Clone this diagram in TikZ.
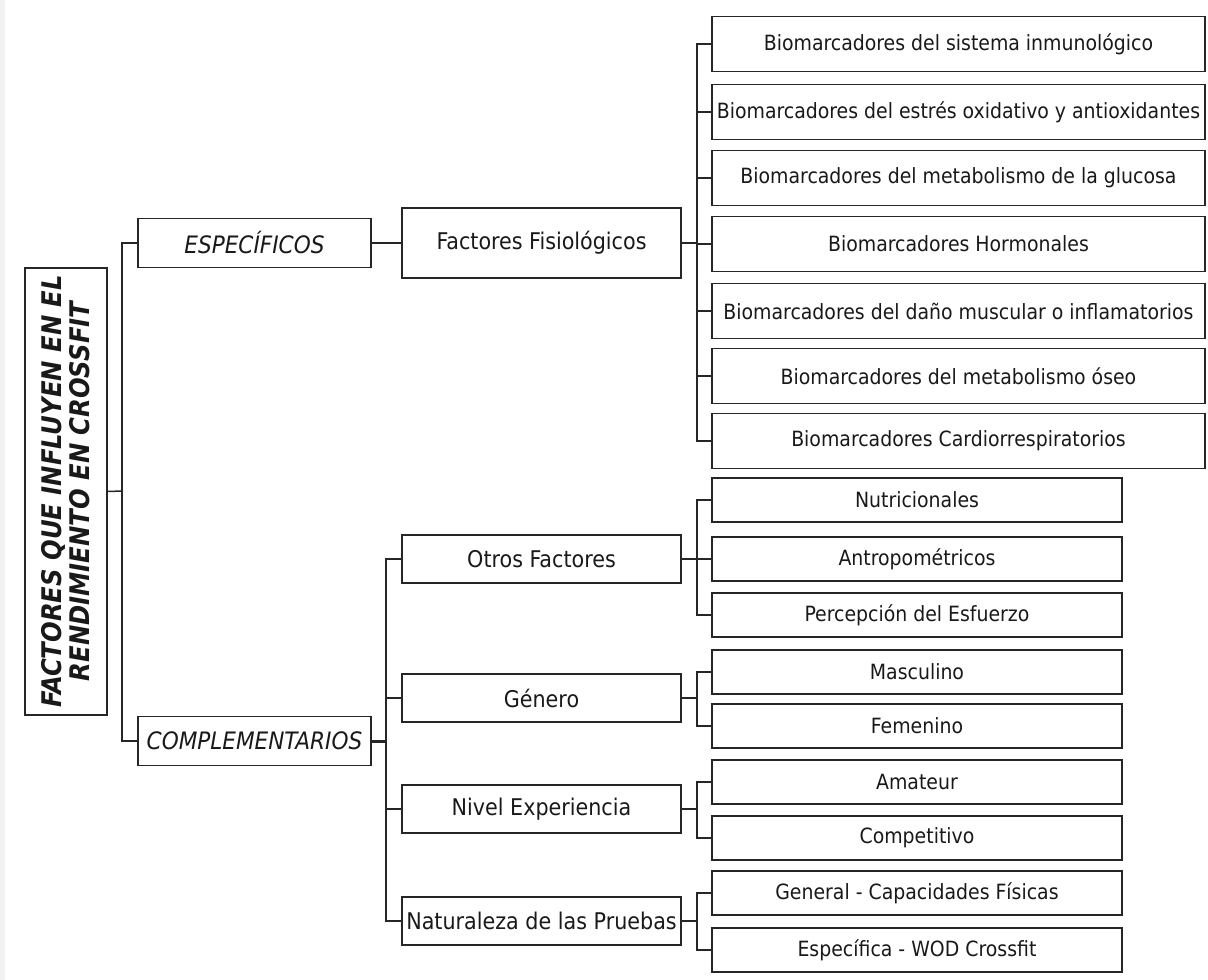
\documentclass[tikz,border=0pt]{standalone}
\usepackage{fontspec}
\setmainfont{DejaVu Sans Condensed}
\newfontfamily\titlefont{DejaVu Sans Condensed}
\begin{document}
\begin{tikzpicture}[x=1pt,y=-1pt,
  box/.style={draw=black!85,line width=1.6pt,inner sep=0pt,align=center,text=black!90},
  link/.style={draw=black!85,line width=1.5pt},
  top/.style={box,minimum width=233pt,minimum height=49pt,
    font=\itshape\fontsize{24}{28}\selectfont},
  mid/.style={box,minimum width=279pt,minimum height=48pt,
    font=\fontsize{23}{26}\selectfont},
  bio/.style={box,minimum width=493pt,minimum height=55pt,
    font=\fontsize{21}{24}\selectfont},
  sub/.style={box,minimum width=410pt,minimum height=44pt,
    font=\fontsize{21}{24}\selectfont}]
  \useasboundingbox (0,0) rectangle (1208,980);
  \fill[black!5] (0,0) rectangle (5,980);

  % root, rotated
  \node[box,rotate=90,minimum width=447pt,minimum height=82pt,
    font=\titlefont\bfseries\itshape\fontsize{27}{28}\selectfont]
    (title) at (66,491.5) {FACTORES QUE INFLUYEN EN EL\\RENDIMIENTO EN CROSSFIT};

  \node[top] (esp) at (254.5,243) {ESPECÍFICOS};
  \node[top] (comp) at (254.5,741) {COMPLEMENTARIOS};

  \node[mid,minimum height=70pt] (fisio) at (541.5,243) {Factores Fisiológicos};
  \node[mid] (otros) at (541.5,559) {Otros Factores};
  \node[mid] (genero) at (541.5,698) {Género};
  \node[mid] (nivel) at (541.5,809) {Nivel Experiencia};
  \node[mid] (prueba) at (541.5,921) {Naturaleza de las Pruebas};

  \foreach \n/\y/\t in {1/44/Biomarcadores del sistema inmunológico,
      2/112/Biomarcadores del estrés oxidativo y antioxidantes,
      3/178/Biomarcadores del metabolismo de la glucosa,
      4/244/Biomarcadores Hormonales,
      5/311/Biomarcadores del daño muscular o inflamatorios,
      6/376/Biomarcadores del metabolismo óseo,
      7/441/Biomarcadores Cardiorrespiratorios}
    \node[bio] (bio\n) at (958.5,\y) {\t};

  \node[sub] (nutri) at (917,500) {Nutricionales};
  \node[sub] (antro) at (917,559) {Antropométricos};
  \node[sub] (esfu) at (917,615) {Percepción del Esfuerzo};
  \node[sub] (masc) at (917,672) {Masculino};
  \node[sub] (feme) at (917,726) {Femenino};
  \node[sub] (amat) at (917,782) {Amateur};
  \node[sub] (compe) at (917,838) {Competitivo};
  \node[sub] (gral) at (917,893) {General - Capacidades Físicas};
  \node[sub] (espe) at (917,950) {Específica - WOD Crossfit};

  % buses
  \coordinate (tbus) at (122,491);
  \coordinate (bbus) at (697,243);
  \coordinate (cbus) at (386,741);

  % title.south is the right side once rotated
  \draw[link] (title.south) -- (tbus);
  \draw[link] (esp.west) -| (tbus) |- (comp.west);
  \draw[link] (esp.east) -- (fisio.west);

  \draw[link] (fisio.east) -- (bbus);
  \draw[link] (bio1.west) -| (bbus) |- (bio7.west);
  \foreach \n in {2,...,6}
    \draw[link] (bio\n.west) -- (bio\n.west -| bbus);

  \draw[link,line width=3pt] (comp.east) -- (cbus);
  \draw[link] (otros.west) -| (cbus) |- (prueba.west);
  \draw[link] (genero.west) -- (genero.west -| cbus);
  \draw[link] (nivel.west) -- (nivel.west -| cbus);

  \draw[link] (otros.east) -- (antro.west);
  \draw[link] (nutri.west) -| (bbus |- otros.east) |- (esfu.west);
  \draw[link] (genero.east) -- (genero.east -| bbus);
  \draw[link] (masc.west) -| (genero.east -| bbus) |- (feme.west);
  \draw[link] (nivel.east) -- (nivel.east -| bbus);
  \draw[link] (amat.west) -| (nivel.east -| bbus) |- (compe.west);
  \draw[link] (prueba.east) -- (prueba.east -| bbus);
  \draw[link] (gral.west) -| (prueba.east -| bbus) |- (espe.west);
\end{tikzpicture}
\end{document}
